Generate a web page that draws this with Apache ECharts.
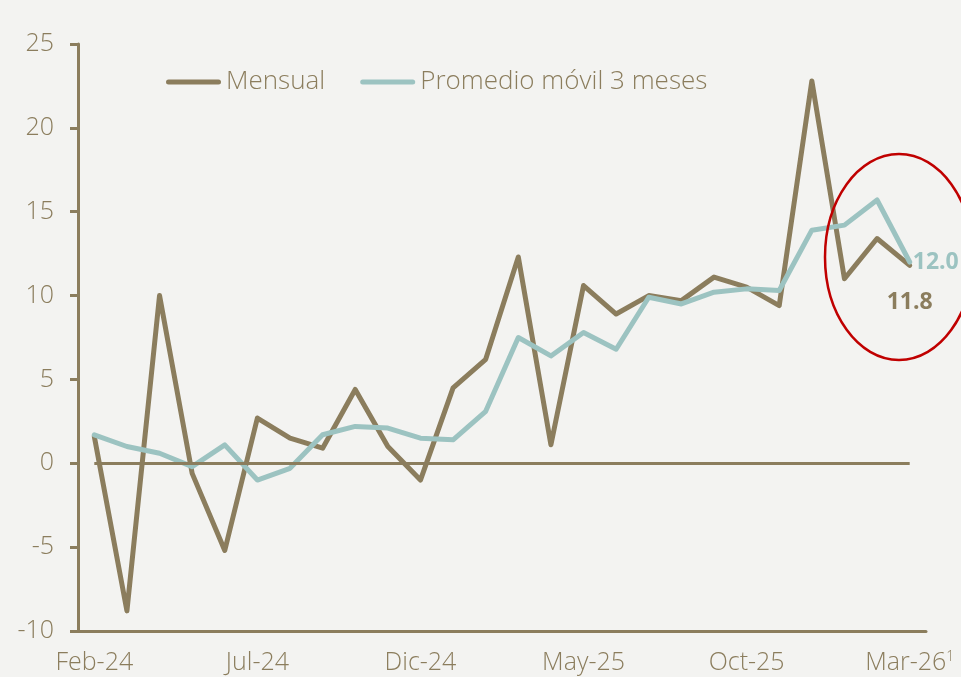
<!DOCTYPE html>
<html>
<head>
<meta charset="utf-8">
<script src="https://cdn.jsdelivr.net/npm/echarts@6/dist/echarts.min.js"></script>
<style>
    html, body { margin: 0; padding: 0; background: #F3F3F1; }
    #chart1 { width: 961px; height: 677px; }
</style>
</head>
<body>
<div id="chart1"></div>
<script>
// meses (eje x)
var categories = ['Feb-24', 'Mar-24', 'Abr-24', 'May-24', 'Jun-24', 'Jul-24', 'Ago-24', 'Sep-24', 'Oct-24', 'Nov-24', 'Dic-24',
    'Ene-25', 'Feb-25', 'Mar-25', 'Abr-25', 'May-25', 'Jun-25', 'Jul-25', 'Ago-25', 'Sep-25', 'Oct-25', 'Nov-25', 'Dic-25',
    'Ene-26', 'Feb-26', 'Mar-26'];
// variacion mensual
var mensual = [1.6, -8.8, 10.0, -0.6, -5.2, 2.7, 1.5, 0.9, 4.4, 1.0, -1.0,
    4.5, 6.2, 12.3, 1.1, 10.6, 8.9, 10.0, 9.7, 11.1, 10.5, 9.4, 22.8,
    11.0, 13.4, 11.8];
// promedio movil 3 meses
var promedio = [1.7, 1.0, 0.6, -0.2, 1.1, -1.0, -0.3, 1.7, 2.2, 2.1, 1.5,
    1.4, 3.1, 7.5, 6.4, 7.8, 6.8, 9.9, 9.5, 10.2, 10.4, 10.3, 13.9,
    14.2, 15.7, 12.0];
var yTicks = [-10, -5, 0, 5, 10, 15, 20, 25];
var footnote = '1';

var brown = '#8B7D5D';
var teal = '#9CC3C1';
var font = '"Open Sans", sans-serif';
var last = categories.length - 1;
// icono de leyenda: barra redondeada
var pill = 'path://M2.5,0 H52.5 A2.5,2.5 0 0 1 52.5,5 H2.5 A2.5,2.5 0 0 1 2.5,0 Z';

function lastLabel(arr, color, pos, dist) {
    return arr.map(function (v, i) {
        if (i != last) return v;
        return {
            value: v,
            label: {
                show: true, position: pos, distance: dist,
                formatter: function (p) { return p.value.toFixed(1); },
                color: color, fontSize: 23, fontWeight: 'bold', fontFamily: font
            }
        };
    });
}

function drawChart() {
    var myChart = echarts.init(document.getElementById('chart1'));

    var option = {
        backgroundColor: '#F3F3F1',
        animation: false,
        grid: { left: 78, right: 35, top: 44, bottom: 46 },
        legend: {
            left: 161, top: 64,
            icon: pill,
            itemWidth: 55, itemHeight: 5, itemGap: 35,
            textStyle: { color: brown, fontSize: 26, fontFamily: font, fontWeight: 300 },
            data: ['Mensual', 'Promedio móvil 3 meses']
        },
        xAxis: {
            type: 'category',
            data: categories,
            boundaryGap: true,
            axisLine: { onZero: false, lineStyle: { color: brown, width: 3 } },
            axisTick: { interval: 4, length: 7, lineStyle: { color: brown, width: 3 } },
            axisLabel: {
                interval: 4, margin: 19,
                color: brown, fontSize: 25, fontFamily: font, fontWeight: 300,
                formatter: function (v, i) {
                    if (i == last) return '{a|' + v + '}{s|' + footnote + '}';
                    return v;
                },
                rich: {
                    a: { color: brown, fontSize: 25, fontFamily: font, fontWeight: 300 },
                    s: { color: brown, fontSize: 14, fontFamily: font, verticalAlign: 'top', padding: [0, 0, 12, 0] }
                }
            }
        },
        yAxis: {
            type: 'value',
            min: yTicks[0], max: yTicks[yTicks.length - 1], interval: 5,
            splitLine: { show: false },
            axisLine: { show: true, lineStyle: { color: brown, width: 3 } },
            axisTick: { show: true, length: 8, lineStyle: { color: brown, width: 3 } },
            axisLabel: { margin: 24, color: brown, fontSize: 25, fontFamily: font, fontWeight: 300 }
        },
        series: [
            {
                name: 'Mensual',
                type: 'line',
                symbol: 'circle',
                symbolSize: 0.1,
                itemStyle: { color: brown },
                lineStyle: { width: 5, color: brown, join: 'round', cap: 'round' },
                data: lastLabel(mensual, brown, 'bottom', 26),
                markLine: {
                    silent: true,
                    symbol: 'none',
                    label: { show: false },
                    lineStyle: { color: brown, width: 3, type: 'solid' },
                    data: [[{ xAxis: 0, yAxis: 0 }, { xAxis: last, yAxis: 0 }]]
                }
            },
            {
                name: 'Promedio móvil 3 meses',
                type: 'line',
                symbol: 'circle',
                symbolSize: 0.1,
                itemStyle: { color: teal },
                lineStyle: { width: 5, color: teal, join: 'round', cap: 'round' },
                data: lastLabel(promedio, teal, 'right', 3)
            }
        ],
        graphic: [{
            type: 'ellipse',
            shape: { cx: 899, cy: 257, rx: 74, ry: 103 },
            style: { fill: 'none', stroke: '#C00000', lineWidth: 2.5 },
            z: 100
        }]
    };
    myChart.setOption(option);
}

drawChart();
</script>
</body>
</html>
